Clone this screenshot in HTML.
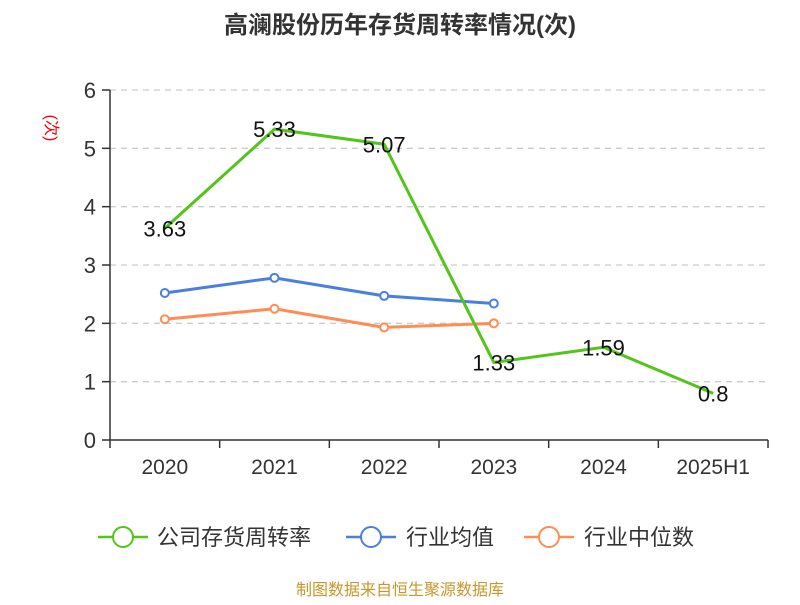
<!DOCTYPE html>
<html><head><meta charset="utf-8"><style>
body{margin:0;background:#fff;font-family:"Liberation Sans","Noto Sans CJK SC",sans-serif}
svg text{font-family:"Liberation Sans","Noto Sans CJK SC",sans-serif}
</style></head><body>
<svg id="c" width="800" height="600" xmlns="http://www.w3.org/2000/svg">
<text x="400" y="33" text-anchor="middle" font-size="24" font-weight="bold" fill="#333">高澜股份历年存货周转率情况(次)</text>
<text transform="translate(46,128) rotate(90)" text-anchor="middle" font-size="16" fill="#e00">(次)</text>
<g id="grid"></g><g id="axes"></g><g id="series"></g>
<g>
<g><line x1="98" y1="537" x2="148" y2="537" stroke="#52c41a" stroke-width="2.5"/><circle cx="123" cy="537" r="10" fill="#fff" stroke="#52c41a" stroke-width="2"/><text x="157" y="545" font-size="22" fill="#333">公司存货周转率</text></g>
<g><line x1="346" y1="537" x2="396" y2="537" stroke="#4a7fe0" stroke-width="2.5"/><circle cx="371" cy="537" r="10" fill="#fff" stroke="#4a7fe0" stroke-width="2"/><text x="406" y="545" font-size="22" fill="#333">行业均值</text></g>
<g><line x1="524" y1="537" x2="574" y2="537" stroke="#ff8c55" stroke-width="2.5"/><circle cx="549" cy="537" r="10" fill="#fff" stroke="#ff8c55" stroke-width="2"/><text x="584" y="545" font-size="22" fill="#333">行业中位数</text></g>
</g>
<text x="400" y="595" text-anchor="middle" font-size="16" fill="#c8962a">制图数据来自恒生聚源数据库</text>
</svg>
<script>
const categories=["2020","2021","2022","2023","2024","2025H1"];
const companyVals=[3.63,5.33,5.07,1.33,1.59,0.8];
const avgVals=[2.52,2.78,2.47,2.34];
const medianVals=[2.07,2.25,1.93,2.0];
const yTicks=[0,1,2,3,4,5,6];
const NS="http://www.w3.org/2000/svg";
const x0=110,x1=768,yB=440,yT=90;
const bw=(x1-x0)/categories.length;
const X=i=>x0+bw*(i+0.5);
const Y=v=>yB-(v/6)*(yB-yT);
function mk(p,t,a){const e=document.createElementNS(NS,t);for(const k in a)e.setAttribute(k,a[k]);p.appendChild(e);return e;}
const grid=document.getElementById('grid'),axes=document.getElementById('axes'),ser=document.getElementById('series');
yTicks.forEach(v=>{
 if(v>0){const g=mk(grid,'line',{x1:x0,x2:x1,y1:Y(v),y2:Y(v),stroke:'#ccc','stroke-dasharray':'6,5','stroke-width':1.3});
 
 }
 const tk=mk(axes,'line',{x1:x0-8,x2:x0,y1:Y(v),y2:Y(v),stroke:'#333','stroke-width':1.5});
 
 
 const t=mk(axes,'text',{x:x0-14,y:Y(v)+8,'text-anchor':'end','font-size':22,fill:'#333'});t.textContent=v;
 
 
});
const ya=mk(axes,'line',{x1:x0,x2:x0,y1:yT,y2:yB,stroke:'#333','stroke-width':1.5});


const xa=mk(axes,'line',{x1:x0,x2:x1,y1:yB,y2:yB,stroke:'#333','stroke-width':1.5});


for(let i=0;i<=categories.length;i++){const t=mk(axes,'line',{x1:x0+bw*i,x2:x0+bw*i,y1:yB,y2:yB+8,stroke:'#333','stroke-width':1.5});
 
 }
categories.forEach((c,i)=>{const t=mk(axes,'text',{x:X(i),y:yB+34,'text-anchor':'middle','font-size':21,fill:'#333'});t.textContent=c;
 
 });
function line(vals,color,name,labels,dots){
 const pts=vals.map((v,i)=>X(i)+','+Y(v)).join(' ');
 const pl=mk(ser,'polyline',{points:pts,fill:'none',stroke:color,'stroke-width':3});
 
 
 vals.forEach((v,i)=>{
  if(dots){const c=mk(ser,'circle',{cx:X(i),cy:Y(v),r:4,fill:'#fff',stroke:color,'stroke-width':2});
   
   }
  if(labels){const t=mk(ser,'text',{x:X(i),y:Y(v)+8,'text-anchor':'middle','font-size':22,fill:'#111'});t.textContent=v;
   
   }
 });
}
line(avgVals,'#4a7fe0','industry-avg',false,true);
line(medianVals,'#ff8c55','industry-median',false,true);
line(companyVals,'#52c41a','company',true,false);
</script>
</body></html>
